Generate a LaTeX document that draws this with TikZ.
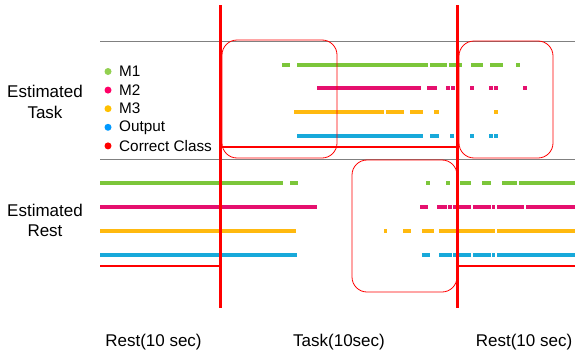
\documentclass[tikz,border=0pt]{standalone}
\usepackage{fontspec}
\setmainfont{Liberation Sans}
\definecolor{mgreen}{HTML}{7CC63A}
\definecolor{mpink}{HTML}{E5106E}
\definecolor{mamber}{HTML}{FFB90F}
\definecolor{mblue}{HTML}{18A9DA}
\definecolor{lgreen}{HTML}{92D050}
\definecolor{lpink}{HTML}{FF0066}
\definecolor{lamber}{HTML}{FFC000}
\definecolor{lblue}{HTML}{0099FF}
\begin{document}
\begin{tikzpicture}[x=1pt,y=-1pt,
    seg/.style={line width=4pt},
    redline/.style={red,line width=3pt},
    classline/.style={red,line width=2.5pt},
    focusbox/.style={red,line width=0.8pt,rounded corners=15pt},
    divider/.style={gray,line width=0.9pt},
    legdot/.style={circle,inner sep=0pt,minimum size=7pt},
    legtext/.style={anchor=west,inner sep=0pt,font=\fontsize{15.3}{17}\selectfont},
    bigtext/.style={align=center,inner sep=0pt,font=\fontsize{17}{20.5}\selectfont}]
    \useasboundingbox (0,0) rectangle (575,356);

    % Row labels
    \node[bigtext] (esttask) at (45,102) {Estimated\\Task};
    \node[bigtext] (estrest) at (45,220.5) {Estimated\\Rest};

    % Dividers between the two rows
    \draw[divider] (100,41) -- (575,41);
    \draw[divider] (100,159) -- (575,159);

    % Legend
    \foreach \name/\col/\yy/\txt in {m1/lgreen/71.5/M1, m2/lpink/90.1/M2,
        m3/lamber/108.7/M3, out/lblue/127.3/Output, cls/red/145.9/Correct Class} {
        \node[legdot,fill=\col] (dot\name) at (108,\yy) {};
        \node[legtext] (leg\name) at (119,\yy) {\txt};
    }

    % Estimated task row
    \begin{scope}
        \foreach \a/\b in {282/290,297/428,430/447,449/462,471/483,490/503,516/520}
            \draw[seg,mgreen] (\a,65) -- (\b,65);
        \foreach \a/\b in {317/421,427/437,446/450,451/455,470/474,489/493,494/498,523/527}
            \draw[seg,mpink] (\a,88) -- (\b,88);
        \foreach \a/\b in {294/384,386/404,410/423,434/439,494/498}
            \draw[seg,mamber] (\a,112) -- (\b,112);
        \foreach \a/\b in {297/423,430/439,450/454,470/474,489/493,494/498}
            \draw[seg,mblue] (\a,136) -- (\b,136);
        \draw[classline] (222,147) -- (457,147);
    \end{scope}

    % Estimated rest row
    \begin{scope}
        \foreach \a/\b in {100/283,290/298,426/430,446/450,460/471,482/491,502/517,519/575}
            \draw[seg,mgreen] (\a,183) -- (\b,183);
        \foreach \a/\b in {100/317,420/428,437/447,448/452,453/471,473/491,492/495,497/524,526/575}
            \draw[seg,mpink] (\a,207) -- (\b,207);
        \foreach \a/\b in {100/296,384/387,403/411,422/434,439/495,497/575}
            \draw[seg,mamber] (\a,231) -- (\b,231);
        \foreach \a/\b in {100/297,422/430,439/452,453/471,473/491,492/495,497/575}
            \draw[seg,mblue] (\a,255) -- (\b,255);
        \draw[classline] (100,266) -- (221,266);
        \draw[classline] (457,266) -- (575,266);
    \end{scope}

    % Highlight boxes
    \draw[focusbox] (222,40) rectangle (337,158);
    \draw[focusbox] (459,41) rectangle (553,158);
    \draw[focusbox] (352,160) rectangle (457,292);

    % Task onset and offset
    \draw[redline] (220,5) -- (220,308);
    \draw[redline] (457,5) -- (457,308);

    % Time labels
    \node[bigtext] (rest1) at (153.5,342) {Rest(10 sec)};
    \node[bigtext] (task) at (339,342) {Task(10sec)};
    \node[bigtext] (rest2) at (524,342) {Rest(10 sec)};
\end{tikzpicture}
\end{document}
